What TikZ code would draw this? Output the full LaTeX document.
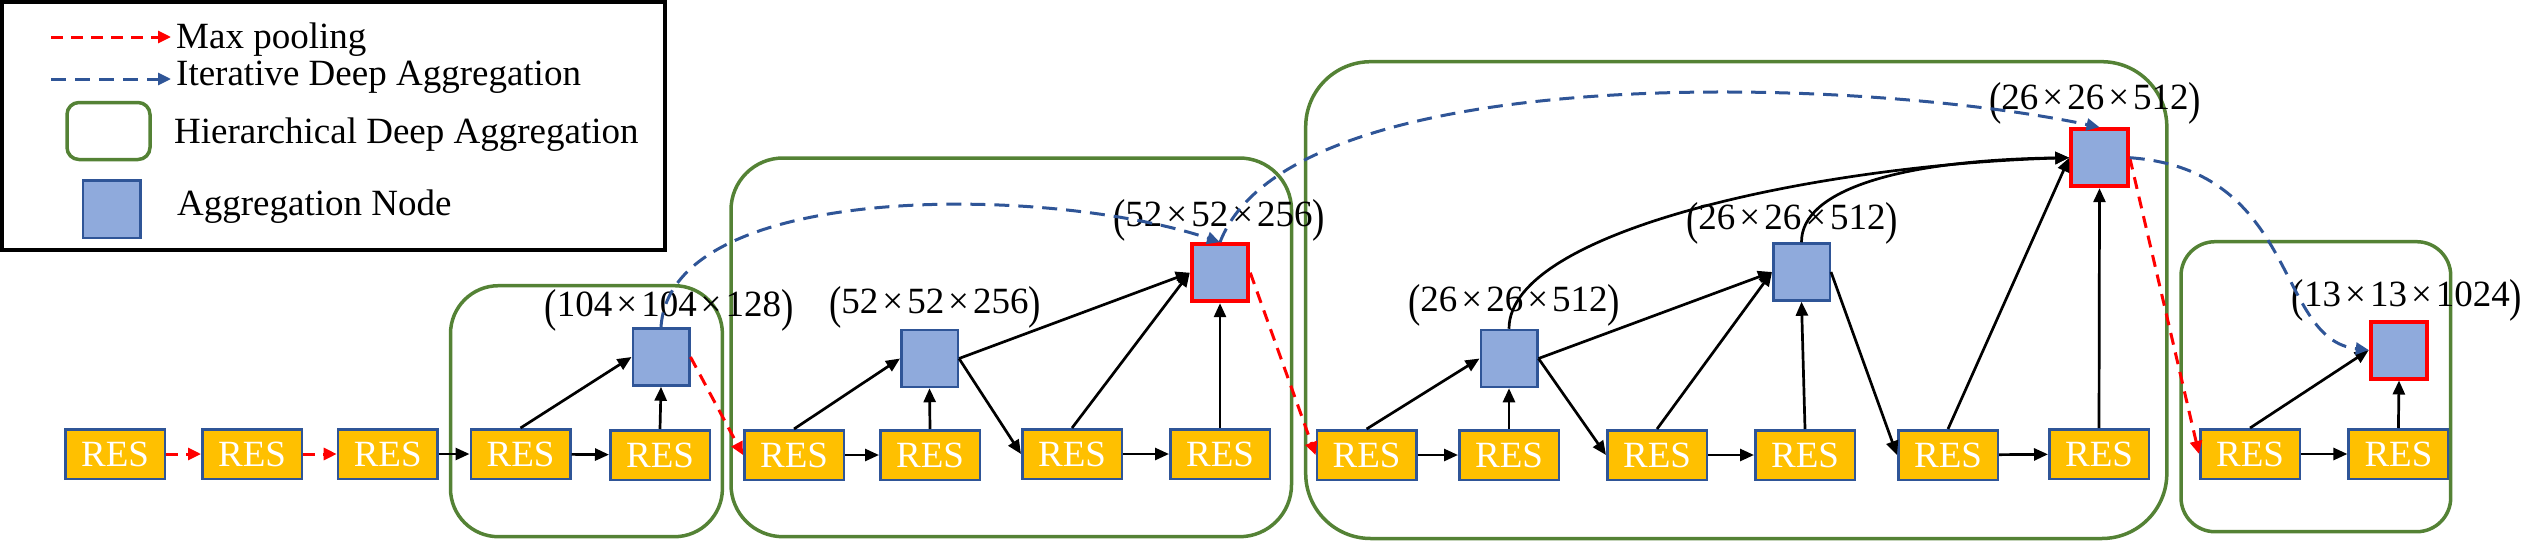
\documentclass[tikz,border=0pt]{standalone}
\usepackage{fontspec}
\setmainfont{Liberation Serif}
\usepackage{graphicx}
\usetikzlibrary{arrows.meta}
\definecolor{resfill}{HTML}{FFC000}
\definecolor{boxblue}{HTML}{2F5597}
\definecolor{aggfill}{HTML}{8FAADC}
\definecolor{hdagreen}{HTML}{548235}
\definecolor{mpred}{HTML}{FF0000}
\newcommand{\bigpar}[1]{\raisebox{-0.12em}{\scalebox{1}[1.25]{#1}}}
\newcommand{\tms}{\hspace{4pt}×\hspace{4pt}}
\newcommand{\dimlab}[3]{\bigpar{(}#1\tms#2\tms#3\bigpar{)}}
\begin{document}
\begin{tikzpicture}[x=1pt,y=-1pt,
  every node/.style={font=\fontsize{37}{44}\selectfont},
  res/.style={draw=boxblue, line width=2.5pt, fill=resfill, text=white,
    minimum width=99.5pt, minimum height=49.5pt, inner sep=0pt},
  agg/.style={draw=boxblue, line width=2.5pt, fill=aggfill,
    minimum width=56.5pt, minimum height=57pt, inner sep=0pt},
  aggred/.style={agg, draw=mpred, line width=4pt},
  hda/.style={draw=hdagreen, line width=3.5pt, rounded corners=#1},
  legtext/.style={anchor=base west, inner sep=0pt},
  dimtext/.style={inner sep=0pt},
  arr/.style={-{Triangle[length=14pt,width=12pt]}, line width=2.7pt, black},
  pool/.style={-{Triangle[length=13pt,width=12pt]}, line width=3pt, mpred, dash pattern=on 12pt off 8pt},
  ida/.style={-{Triangle[length=13pt,width=12pt]}, line width=3pt, boxblue, dash pattern=on 15pt off 9pt}
]
\useasboundingbox (0,0) rectangle (2524,541);

% ---------- legend ----------
\draw[line width=4pt] (2,2) rectangle (665,249.5);
\coordinate (lp0) at (51,37); \coordinate (lp1) at (171,37);
\draw[pool] (lp0) -- (lp1);
\node[legtext] (lt1) at (176,48) {Max pooling};
\coordinate (li0) at (51,79); \coordinate (li1) at (171,79);
\draw[ida] (li0) -- (li1);
\node[legtext] (lt2) at (176,85) {Iterative Deep Aggregation};
\node[draw=hdagreen, line width=3.5pt, rounded corners=12pt,
      minimum width=83pt, minimum height=57pt, inner sep=0pt] (lh) at (108.5,131) {};
\node[legtext] (lt3) at (174,143) {Hierarchical Deep Aggregation};
\node[agg, minimum width=57.5pt, minimum height=57.5pt] (la) at (111.5,209) {};
\node[legtext] (lt4) at (177,215) {Aggregation Node};

% ---------- HDA boxes ----------
\draw[hda=48] (450.5,285.7) rectangle (722.4,536.7);
\draw[hda=52] (731,158) rectangle (1291.5,536.7);
\draw[hda=65] (1305.7,61.7) rectangle (2166.8,538.5);
\draw[hda=34] (2181,241.7) rectangle (2450.7,531.7);

% ---------- RES blocks ----------
\node[res] (r1) at (115,454) {RES};
\node[res] (r2) at (252,454) {RES};
\node[res] (r3) at (387.7,454) {RES};
\node[res] (r4) at (520.5,454) {RES};
\node[res] (r5) at (660,455) {RES};
\node[res] (r6) at (794,455) {RES};
\node[res] (r7) at (930,455) {RES};
\node[res] (r8) at (1072,454) {RES};
\node[res] (r9) at (1220,454) {RES};
\node[res] (r10) at (1366.6,455) {RES};
\node[res] (r11) at (1509,455) {RES};
\node[res] (r12) at (1657,455) {RES};
\node[res] (r13) at (1805,455) {RES};
\node[res] (r14) at (1948,455) {RES};
\node[res] (r15) at (2099,454) {RES};
\node[res] (r16) at (2250,454) {RES};
\node[res] (r17) at (2398.4,454) {RES};

% ---------- aggregation nodes ----------
\node[agg] (a1) at (661,357) {};
\node[agg] (a2) at (929.5,358.5) {};
\node[aggred] (a3) at (1220,272.7) {};
\node[agg] (a4) at (1509,358.5) {};
\node[agg] (a5) at (1801.5,272) {};
\node[aggred] (a6) at (2099.5,157.7) {};
\node[aggred] (a7) at (2399,350) {};

% ---------- dimension labels ----------
\node[dimtext] (l1) at (669,310) {\dimlab{104}{104}{128}};
\node[dimtext] (l2) at (935,307) {\dimlab{52}{52}{256}};
\node[dimtext] (l3) at (1219,220) {\dimlab{52}{52}{256}};
\node[dimtext] (l4) at (1514,305) {\dimlab{26}{26}{512}};
\node[dimtext] (l5) at (1792,223) {\dimlab{26}{26}{512}};
\node[dimtext] (l6) at (2095,103) {\dimlab{26}{26}{512}};
\node[dimtext] (l7) at (2407,300) {\dimlab{13}{13}{1024}};

% ---------- stem ----------
\draw[pool] (r1) -- (r2);
\draw[pool] (r2) -- (r3);
\draw[arr] (r3) -- (r4);

% ---------- group 1 ----------
\draw[arr] (r4) -- (r5);
\draw[arr] (r4.north) -- (a1.west);
\draw[arr] (r5.north) -- (a1.south);
\draw[pool] (a1.east) -- (r6.west);

% ---------- group 2 ----------
\draw[arr] (r6.north) -- (a2.west);
\draw[arr] (r6) -- (r7);
\draw[arr] (r7.north) -- (a2.south);
\draw[arr] (a2.east) -- (r8.west);
\draw[arr] (a2.east) -- (a3.west);
\draw[arr] (r8.north) -- (a3.west);
\draw[arr] (r8) -- (r9);
\draw[arr] (r9.north) -- (a3.south);
\draw[pool] (a3.east) -- (r10.west);

% ---------- group 3 ----------
\draw[arr] (r10.north) -- (a4.west);
\draw[arr] (r10) -- (r11);
\draw[arr] (r11.north) -- (a4.south);
\draw[arr] (a4.east) -- (r12.west);
\draw[arr] (a4.east) -- (a5.west);
\draw[arr] (r12.north) -- (a5.west);
\draw[arr] (r12) -- (r13);
\draw[arr] (r13.north) -- (a5.south);
\draw[arr] (a5.east) -- (r14.west);
\draw[arr] (r14.north) -- (a6.west);
\draw[arr] (r14) -- (r15);
\draw[arr] (r15.north) -- (a6.south);
\draw[arr] (a4.north) .. controls (1509,230) and (1820,165) .. (a6.west);
\draw[arr] (a5.north) .. controls (1801,190) and (1900,160) .. (a6.west);
\draw[pool] (a6.east) -- (r16.west);

% ---------- group 4 ----------
\draw[arr] (r16.north) -- (a7.west);
\draw[arr] (r16) -- (r17);
\draw[arr] (r17.north) -- (a7.south);

% ---------- iterative deep aggregation ----------
\draw[ida] (a1.north) .. controls (670,180) and (1050,185) .. (a3.north);
\draw[ida] (a3.north) .. controls (1290,60) and (1850,75) .. (a6.north);
\draw[ida] (a6.east) .. controls (2300,170) and (2275,340) .. (a7.west);
\end{tikzpicture}
\end{document}
